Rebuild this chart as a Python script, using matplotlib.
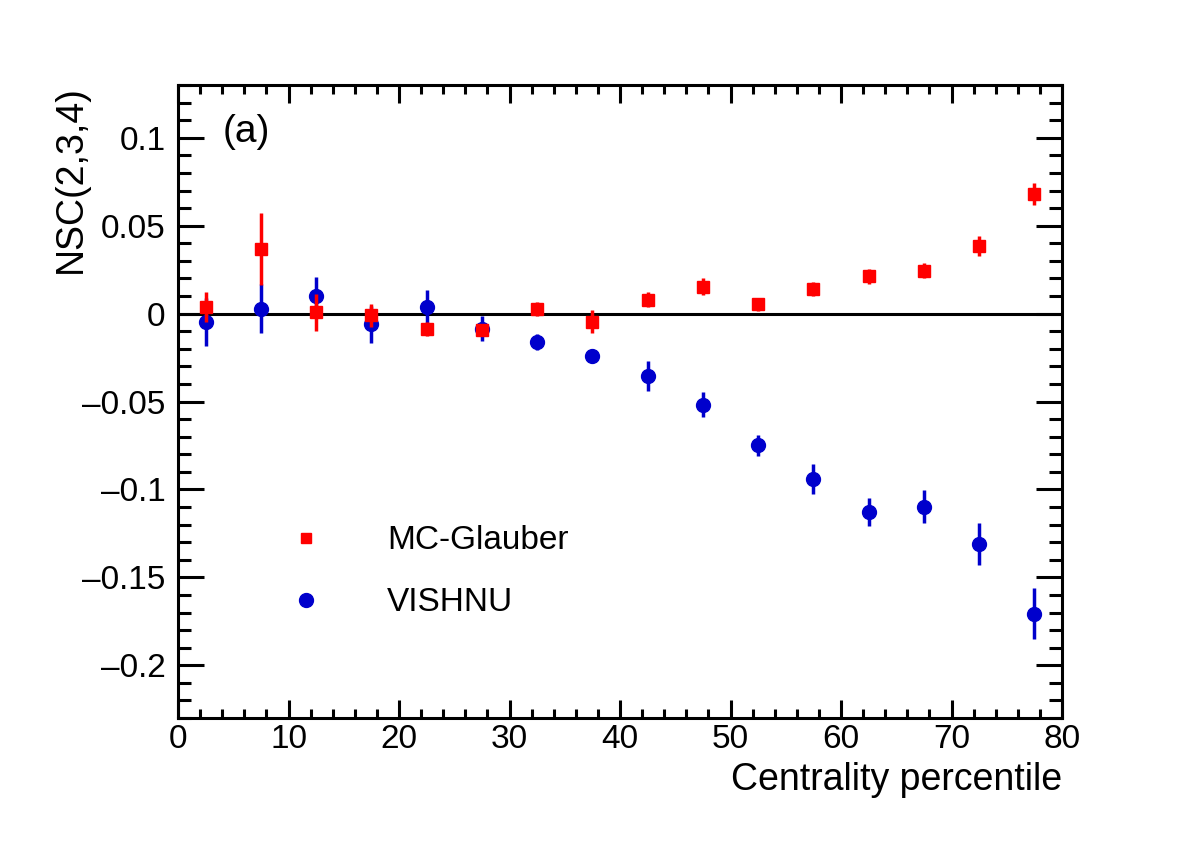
import matplotlib
matplotlib.use("Agg")
import matplotlib.pyplot as plt
from matplotlib.lines import Line2D
from matplotlib.ticker import MultipleLocator, FuncFormatter

plt.rcParams['font.family'] = ['Liberation Sans', 'DejaVu Sans']

# centralidad (centro del bin)
centralidad = [2.5, 7.5, 12.5, 17.5, 22.5, 27.5, 32.5, 37.5,
               42.5, 47.5, 52.5, 57.5, 62.5, 67.5, 72.5, 77.5]

# MC-Glauber
glauber = [0.0036, 0.0367, 0.0008, -0.0010, -0.0087, -0.0095, 0.0025, -0.0047,
           0.0080, 0.0153, 0.0053, 0.0142, 0.0212, 0.0244, 0.0385, 0.0680]
glauber_err = [0.0085, 0.0205, 0.0105, 0.0065, 0.0040, 0.0030, 0.0040, 0.0065,
               0.0040, 0.0048, 0.0038, 0.0040, 0.0044, 0.0044, 0.0055, 0.0063]

# VISHNU
vishnu = [-0.0049, 0.0028, 0.0102, -0.0062, 0.0036, -0.0085, -0.0161, -0.0244,
          -0.0354, -0.0517, -0.0748, -0.0943, -0.1127, -0.1098, -0.1309, -0.1706]
vishnu_err = [0.0137, 0.0138, 0.0104, 0.0105, 0.0097, 0.0070, 0.0045, 0.0020,
              0.0087, 0.0072, 0.0060, 0.0085, 0.0080, 0.0092, 0.0120, 0.0144]

ROJO = '#ff0000'
AZUL = '#0000cc'

fig = plt.figure(figsize=(11.82, 8.46), dpi=100)
ax = fig.add_axes([0.1506, 0.1513, 0.7479, 0.7482])

ax.axhline(0, color='black', lw=2.2, zorder=1)

ax.errorbar(centralidad, vishnu, yerr=vishnu_err, fmt='o', color=AZUL,
            ms=10, elinewidth=2.5, capsize=0, zorder=3)
ax.errorbar(centralidad, glauber, yerr=glauber_err, fmt='s', color=ROJO,
            ms=8.5, elinewidth=2.5, capsize=0, zorder=4)

ax.set_xlim(0, 80)
ax.set_ylim(-0.23, 0.13)

ax.xaxis.set_major_locator(MultipleLocator(10))
ax.xaxis.set_minor_locator(MultipleLocator(2))
ax.yaxis.set_major_locator(MultipleLocator(0.05))
ax.yaxis.set_minor_locator(MultipleLocator(0.01))
ax.yaxis.set_major_formatter(FuncFormatter(lambda v, p: ('%g' % round(v, 3)).replace('-', '\u2013')))

ax.tick_params(which='both', direction='in', top=True, right=True, width=2.2,
               labelsize=24)
ax.tick_params(axis='x', which='major', length=13, pad=4)
ax.tick_params(axis='x', which='minor', length=6.5)
ax.tick_params(axis='y', which='major', length=19, pad=9)
ax.tick_params(axis='y', which='minor', length=9.5)

for s in ax.spines.values():
    s.set_linewidth(2.2)

ax.set_xlabel('Centrality percentile', fontsize=27, loc='right')
ax.xaxis.set_label_coords(1.0, -0.07)
ax.set_ylabel('NSC(2,3,4)', fontsize=27, loc='top')
ax.yaxis.set_label_coords(-0.101, 1.0)

ax.text(0.05, 0.925, '(a)', transform=ax.transAxes, fontsize=28,
        ha='left', va='center')

handles = [Line2D([], [], ls='none', marker='s', color=ROJO, ms=7.5),
           Line2D([], [], ls='none', marker='o', color=AZUL, ms=10)]
ax.legend(handles, ['MC-Glauber', 'VISHNU'], loc='upper left',
          bbox_to_anchor=(0.107, 0.3045), frameon=False, fontsize=24,
          handlelength=2, handletextpad=1.43, labelspacing=0.93,
          borderpad=0, borderaxespad=0)

fig.savefig('out.png', dpi=100)
